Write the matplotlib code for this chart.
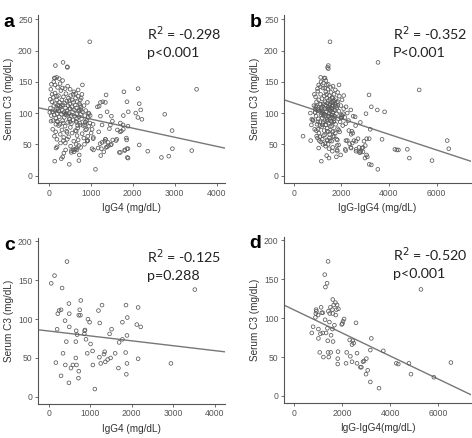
import numpy as np
import matplotlib
matplotlib.use("Agg")
import matplotlib.pyplot as plt

# panel c: IgG4 vs serum C3 (subset)
c_igg4 = [63, 142, 442, 324, 253, 300, 221, 205, 395, 489, 497, 497, 426, 347, 174, 402, 300, 489,
          655, 663, 687, 655, 671, 584, 537, 726, 718, 774, 750, 726, 766, 868, 900, 860, 947, 987,
          1010, 1058, 931, 1066, 1113, 1200, 1286, 1231, 1223, 1255, 1334, 1350, 1366, 1421, 1492,
          1468, 1516, 1602, 1681, 1697, 1776, 1776, 1863, 1894, 1886, 1855, 1886, 1871, 2155, 2123,
          2218, 2155, 2944, 3520, 876]
c_c3 = [146, 156, 174, 140, 111, 112, 107, 87, 98, 120, 107, 90, 71, 56, 44, 41, 27, 18,
        71, 85, 80, 50, 41, 41, 37, 33, 24, 124, 112, 105, 105, 85, 74, 81, 100, 96,
        68, 59, 56, 41, 10, 111, 118, 95, 51, 43, 55, 58, 45, 48, 50,
        81, 87, 56, 37, 70, 74, 96, 118, 102, 79, 57, 43, 29, 115, 93,
        90, 49, 43, 138, 86]

# panel d: IgG-IgG4 vs serum C3 (subset)
d_igg = [1421, 1283, 1380, 1311, 5272, 1615, 1725, 1794, 1656, 1601, 1766, 1849, 1518, 1435, 1490,
         1615, 1739, 1132, 925, 938, 911, 1007, 897, 1159, 1201, 2084, 2042, 2015, 1987, 2581,
         800, 745, 1021, 1104, 1021, 1297, 1477, 1684, 1394, 1601, 1339, 1201, 1546, 1408, 1628,
         2443, 2484, 2415, 3215, 3174, 3712, 1076, 1421, 1228, 1449, 1532, 1835, 1822, 1822, 2194,
         2346, 2166, 2415, 2622, 2622, 2870, 2912, 3008, 2760, 2801, 3063, 2995, 3174, 3533, 4250,
         4333, 4775, 4858, 5810, 6514, 2318]
d_c3 = [173, 156, 145, 140, 137, 124, 120, 117, 117, 111, 111, 112, 114, 109, 106,
        106, 104, 114, 111, 109, 106, 104, 101, 107, 107, 99, 96, 93, 92, 94,
        89, 81, 86, 80, 74, 98, 95, 91, 87, 86, 81, 81, 78, 71, 70,
        71, 68, 66, 74, 59, 58, 56, 56, 50, 50, 56, 57, 48, 41, 56,
        51, 42, 44, 55, 42, 44, 45, 48, 37, 37, 33, 28, 18, 10, 42,
        41, 42, 28, 24, 43, 72]

# panel a: extra patients beyond the c subset
a_extra_igg4 = [976, 159, 341, 444, 135, 190, 802, 2127, 1790, 2762, 2937, 2357, 2683, 2857, 3405,
                1810, 2071, 2190, 1770, 1365, 1159, 1230, 1349, 1389, 1492, 1706, 1635, 1444, 1270,
                1056, 1032, 1190, 920, 1063, 1270, 1349, 1413, 1476, 1524, 1619, 1706, 1810, 1865,
                1889, 1310, 1175, 1032, 1238, 1389, 1730, 1849, 143, 333, 540, 650, 603,
                40, 60, 75, 90, 100, 110, 120, 130, 140, 150, 160, 170, 180, 190, 200, 210, 220, 230,
                240, 250, 260, 270, 280, 290, 300, 310, 320, 330, 340, 350, 360, 370, 380, 390, 400,
                410, 420, 430, 440, 450, 460, 470, 480, 490, 500, 510, 520, 530, 540, 550, 560, 570,
                580, 590, 600, 610, 620, 630, 640, 650, 660, 670, 680, 690, 700, 710, 720, 730, 740,
                750, 760, 770, 780, 790, 800, 820, 840, 860, 880, 900, 920, 940, 960, 980, 150, 210,
                270, 330, 390, 450, 510, 580, 640, 700, 120, 250, 50, 80, 35, 25, 55, 95, 135, 165,
                195, 235, 275, 315, 355, 395, 435, 475, 515, 555, 595, 635, 675, 715, 755, 795, 835,
                875, 915, 955, 200, 280, 360, 440, 520, 620, 700, 760, 850, 930, 170, 345, 505, 665,
                185, 415]
a_extra_c3 = [214, 176, 181, 173, 156, 157, 145, 139, 134, 98, 72, 39, 29, 31, 40,
              40, 100, 105, 81, 129, 110, 117, 117, 102, 95, 84, 73, 75, 81,
              82, 74, 70, 56, 61, 53, 58, 53, 49, 57, 58, 37, 41, 43,
              28, 38, 44, 43, 32, 46, 71, 60, 23, 30, 40, 43, 38,
              108, 96, 118, 102, 88, 125, 112, 97, 104, 132, 115, 92, 107, 121, 99, 86, 113, 128,
              103, 94, 117, 82, 109, 136, 98, 121, 105, 88, 113, 126, 101, 93, 116, 79, 108,
              131, 97, 119, 104, 85, 112, 124, 99, 91, 115, 107, 128, 96, 83, 110, 121, 102,
              89, 117, 134, 105, 95, 113, 124, 87, 108, 99, 118, 76, 127, 103, 94, 115, 84,
              121, 98, 109, 91, 130, 102, 80, 112, 96, 104, 88, 117, 93, 99, 84, 145, 141,
              147, 152, 139, 143, 138, 130, 131, 137, 150, 155, 138, 130, 122, 101, 87, 74, 63, 70,
              58, 80, 66, 73, 61, 52, 69, 62, 77, 68, 55, 72, 64, 48, 81, 67, 60,
              73, 55, 79, 46, 52, 36, 58, 47, 42, 57, 45, 50, 63, 82, 84, 86, 91,
              127, 100]

# panel b: extra patients beyond the d subset
b_extra_igg = [1526, 1456, 1456, 1134, 1316, 1904, 3542, 3164, 3262, 3038, 3514, 3818, 6447, 4400,
               392, 714, 966, 1134, 1316, 1050, 1344, 1484, 1638, 1890, 1624, 1834, 1386, 1484, 1792,
               1162, 2253, 2463, 2533, 2701, 2743, 2953, 3066, 2813, 2911, 2617, 3094, 3262, 2183,
               2393, 1974, 1652, 1890, 2183,
               820, 850, 880, 900, 920, 940, 960, 980, 1000, 1010, 1030, 1050, 1060, 1080, 1100, 1110,
               1130, 1150, 1160, 1170, 1190, 1200, 1210, 1230, 1240, 1250, 1260, 1280, 1290, 1300,
               1310, 1320, 1330, 1350, 1360, 1370, 1380, 1390, 1400, 1410, 1420, 1430, 1440, 1450,
               1460, 1470, 1480, 1490, 1500, 1510, 1520, 1530, 1540, 1550, 1560, 1570, 1580, 1590,
               1600, 1610, 1620, 1630, 1640, 1650, 1660, 1670, 1680, 1690, 1700, 1720, 1740, 1760,
               1780, 1800, 1820, 1840, 1860, 1880, 1900, 1920, 1950, 1980, 2000, 2030, 2060, 2100,
               2150, 2200, 2250, 2300, 1050, 1150, 1250, 1350, 1450, 1550, 1650, 1750, 1850, 1000,
               1100, 1200, 1300, 1400, 1500, 1600, 1700, 1800, 950, 1250, 870, 1000, 1120, 2100,
               2400, 2500, 2600, 2800, 700, 760, 1450, 1750, 1930, 1380, 1620, 1180, 1330, 1530,
               1700, 1240]
b_extra_c3 = [214, 176, 171, 157, 156, 145, 181, 129, 110, 99, 105, 102, 56, 41,
              63, 56, 63, 54, 51, 44, 47, 43, 45, 49, 39, 39, 32, 28, 30,
              23, 56, 52, 56, 59, 45, 55, 59, 39, 38, 39, 30, 17, 40,
              45, 33, 62, 73, 83,
              88, 112, 74, 101, 126, 95, 118, 82, 107, 135, 91, 121, 68, 103, 114, 86,
              130, 97, 109, 78, 123, 92, 104, 140, 85, 115, 99, 72, 127, 107,
              88, 118, 96, 134, 81, 111, 102, 124, 90, 76, 116, 106, 138, 94,
              120, 84, 110, 100, 128, 66, 113, 92, 122, 104, 87, 133, 97, 117,
              79, 108, 125, 93, 112, 101, 71, 119, 86, 130, 105, 95, 114, 82,
              123, 99, 109, 75, 118, 91, 103, 127, 86, 112, 97, 121, 80, 107,
              93, 110, 100, 88, 145, 150, 148, 152, 146, 141, 143, 137, 133, 60,
              62, 58, 65, 57, 60, 55, 63, 58, 72, 64, 130, 139, 142, 128,
              105, 95, 80, 85, 100, 90, 70, 68, 70, 130, 97, 100, 113, 104,
              88, 96]

# regression lines: (intercept, slope)
fit_a = (104.9, -0.01454)
fit_b = (116.1, -0.01252)
fit_c = (84.7, -0.00631)
fit_d = (110.8, -0.01487)

stats_a = ["R$^2$ = -0.298", "p<0.001"]
stats_b = ["R$^2$ = -0.352", "P<0.001"]
stats_c = ["R$^2$ = -0.125", "p=0.288"]
stats_d = ["R$^2$ = -0.520", "p<0.001"]

plt.rcParams['font.family'] = ['Liberation Sans', 'DejaVu Sans']

fig = plt.figure(figsize=(4.72, 4.38), dpi=100)


def panel(rect, x, y, fit, stats, letter, xlabel, xlim, ylim, xticks, yticks):
    ax = fig.add_axes(rect)
    ax.scatter(x, y, s=7, facecolors='none', edgecolors='#5a5a5a', linewidths=0.55, zorder=3)
    xs = np.array(xlim, dtype=float)
    ax.plot(xs, fit[0] + fit[1] * xs, color='#777777', lw=1.0, zorder=2)
    ax.set_xlim(*xlim)
    ax.set_ylim(*ylim)
    ax.set_xticks(xticks)
    ax.set_yticks(yticks)
    for s in ['top', 'right']:
        ax.spines[s].set_visible(False)
    for s in ['left', 'bottom']:
        ax.spines[s].set_color('#555555')
        ax.spines[s].set_linewidth(0.8)
    ax.tick_params(labelsize=6.2, colors='#555555', length=2.5, width=0.6, pad=1.5)
    ax.set_xlabel(xlabel, fontsize=7.2, color='#333333', labelpad=4)
    ax.set_ylabel("Serum C3 (mg/dL)", fontsize=7.2, color='#333333', labelpad=3)
    ax.text(0.58, 0.85, stats[0], transform=ax.transAxes, fontsize=10.3,
            family=['Lato', 'DejaVu Sans'], color='#222222')
    ax.text(0.58, 0.75, stats[1], transform=ax.transAxes, fontsize=10.3,
            family=['Lato', 'DejaVu Sans'], color='#222222')
    fig.text(rect[0] - 0.073, rect[1] + rect[3] + 0.003, letter, fontsize=14,
             fontweight='bold', va='top', ha='left')
    return ax


c3_a = c_c3 + a_extra_c3
igg4_a = c_igg4 + a_extra_igg4
c3_b = d_c3 + b_extra_c3
igg_b = d_igg + b_extra_igg

panel([0.081, 0.582, 0.396, 0.384], igg4_a, c3_a, fit_a, stats_a, "a", "IgG4 (mg/dL)",
      (-250, 4200), (-12, 257), [0, 1000, 2000, 3000, 4000], [0, 50, 100, 150, 200, 250])
panel([0.602, 0.582, 0.396, 0.384], igg_b, c3_b, fit_b, stats_b, "b", "IgG-IgG4 (mg/dL)",
      (-400, 7450), (-12, 257), [0, 2000, 4000, 6000], [0, 50, 100, 150, 200, 250])
panel([0.081, 0.078, 0.396, 0.378], c_igg4, c_c3, fit_c, stats_c, "c", "IgG4 (mg/dL)",
      (-250, 4250), (-9, 204), [0, 1000, 2000, 3000, 4000], [0, 50, 100, 150, 200])
panel([0.602, 0.080, 0.396, 0.380], d_igg, d_c3, fit_d, stats_d, "d", "IgG-IgG4(mg/dL)",
      (-400, 7350), (-9, 205), [0, 2000, 4000, 6000], [0, 50, 100, 150, 200])

fig.savefig("out.png", dpi=100)
